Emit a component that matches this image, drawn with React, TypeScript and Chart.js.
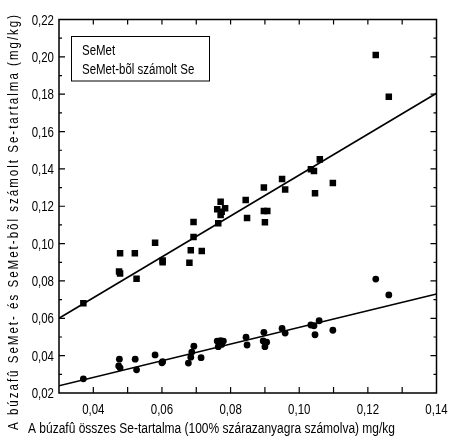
import React, { useEffect, useRef } from 'react';
import { Chart, registerables } from 'chart.js';

Chart.register(...registerables);

// SeMet (squares)
const semetX = [0.0371, 0.0475, 0.0478, 0.0478, 0.0521, 0.0526, 0.058, 0.0602, 0.0602, 0.068, 0.0684, 0.0692, 0.0692, 0.0716, 0.0761, 0.0771, 0.0784, 0.0771, 0.0774, 0.0764, 0.0844, 0.0848, 0.0897, 0.0897, 0.0907, 0.09, 0.095, 0.0959, 0.1034, 0.1043, 0.1046, 0.106, 0.1098, 0.1223, 0.1261];
const semetY = [0.068, 0.085, 0.084, 0.0948, 0.0948, 0.0812, 0.1004, 0.091, 0.09, 0.0898, 0.0964, 0.1035, 0.1116, 0.096, 0.1184, 0.1224, 0.1189, 0.1153, 0.117, 0.1109, 0.1233, 0.1137, 0.13, 0.1175, 0.1175, 0.1114, 0.1346, 0.129, 0.1398, 0.1389, 0.1269, 0.1451, 0.1325, 0.201, 0.1787];

// SeMet-bõl számolt Se (circles)
const seX = [0.0371, 0.0476, 0.0474, 0.0478, 0.0522, 0.0526, 0.058, 0.0602, 0.06, 0.0677, 0.0684, 0.0687, 0.0693, 0.0714, 0.0761, 0.0771, 0.0779, 0.0764, 0.0774, 0.0845, 0.0848, 0.0897, 0.0895, 0.0905, 0.09, 0.095, 0.0959, 0.1034, 0.1043, 0.1046, 0.1058, 0.1098, 0.1223, 0.1261];
const seY = [0.0276, 0.0381, 0.0345, 0.0335, 0.0381, 0.0324, 0.0404, 0.0368, 0.0362, 0.036, 0.0392, 0.0419, 0.0451, 0.0389, 0.0478, 0.048, 0.0478, 0.0448, 0.046, 0.0499, 0.0457, 0.0525, 0.0479, 0.0472, 0.0448, 0.0546, 0.0521, 0.0564, 0.056, 0.0512, 0.0587, 0.0536, 0.081, 0.0725];

// regression lines
const fitX = [0.03, 0.14];
const semetFitY = [0.06, 0.1805];
const seFitY = [0.0239, 0.073];

const xTickValues = [0.04, 0.06, 0.08, 0.1, 0.12, 0.14];
const xTickLabels = ['0,04', '0,06', '0,08', '0,10', '0,12', '0,14'];
const yTickValues = [0.02, 0.04, 0.06, 0.08, 0.1, 0.12, 0.14, 0.16, 0.18, 0.2, 0.22];
const yTickLabels = ['0,02', '0,04', '0,06', '0,08', '0,10', '0,12', '0,14', '0,16', '0,18', '0,20', '0,22'];

const seriesLabels = ['SeMet', 'SeMet-bõl számolt Se'];
const xTitle = 'A búzafû összes Se-tartalma (100% szárazanyagra számolva) mg/kg';
const yTitle = 'A búzafû SeMet- és SeMet-bõl számolt Se-tartalma (mg/kg)';

const FONT = '"Liberation Sans", Arial, sans-serif';
const NARROW = 0.82;

const zip = (xs: number[], ys: number[]) => xs.map((x, i) => ({ x, y: ys[i] }));

function narrowText(ctx: any, text: string, x: number, y: number, align: string, sx = NARROW) {
  const w = ctx.measureText(text).width * sx;
  let left = x;
  if (align === 'center') left = x - w / 2;
  else if (align === 'right') left = x - w;
  ctx.save();
  ctx.translate(left, y);
  ctx.scale(sx, 1);
  ctx.textAlign = 'left';
  ctx.fillText(text, 0, 0);
  ctx.restore();
}

const decor = {
  id: 'decor',
  afterDraw(chart: any) {
    const { ctx, chartArea: a, scales } = chart;
    const xs = scales.x;
    const ys = scales.y;
    ctx.save();
    ctx.strokeStyle = '#000';
    ctx.fillStyle = '#000';
    // frame
    ctx.lineWidth = 1.5;
    ctx.strokeRect(a.left, a.top, a.right - a.left, a.bottom - a.top);
    // ticks
    ctx.lineWidth = 1.2;
    ctx.beginPath();
    for (let i = 1; i < 11; i++) {
      const p = xs.getPixelForValue(0.03 + i * 0.01);
      ctx.moveTo(p, a.bottom);
      ctx.lineTo(p, a.bottom - 6);
      ctx.moveTo(p, a.top);
      ctx.lineTo(p, a.top + 5);
    }
    for (let i = 1; i < 20; i++) {
      const p = ys.getPixelForValue(0.02 + i * 0.01);
      const len = i % 2 === 0 ? 6 : 3;
      ctx.moveTo(a.left, p);
      ctx.lineTo(a.left + len, p);
      ctx.moveTo(a.right, p);
      ctx.lineTo(a.right - len, p);
    }
    ctx.stroke();

    ctx.font = '14px ' + FONT;
    ctx.textBaseline = 'alphabetic';

    // tick labels
    xs.ticks.forEach((t: any) => {
      const i = xTickValues.findIndex((v) => Math.abs(v - t.value) < 1e-9);
      if (i < 0) return;
      narrowText(ctx, xTickLabels[i], xs.getPixelForValue(t.value), a.bottom + 21, 'center');
    });
    ys.ticks.forEach((t: any) => {
      const i = yTickValues.findIndex((v) => Math.abs(v - t.value) < 1e-9);
      if (i < 0) return;
      narrowText(ctx, yTickLabels[i], a.left - 5, ys.getPixelForValue(t.value) + 5, 'right');
    });

    // legend box
    ctx.lineWidth = 1;
    ctx.strokeRect(71.5, 36.5, 138, 44.5);
    narrowText(ctx, chart.data.datasets[0].label, 82, 55, 'left');
    narrowText(ctx, chart.data.datasets[1].label, 82, 74, 'left');

    // x title
    const wx = ctx.measureText(xTitle).width;
    narrowText(ctx, xTitle, 28, 433, 'left', 367 / wx);

    // y title (narrow letters, spread out)
    (ctx as any).letterSpacing = '0px';
    const wy = ctx.measureText(yTitle).width * NARROW;
    const lsy = (417 - wy) / yTitle.length / NARROW;
    ctx.save();
    ctx.translate(18, 430);
    ctx.rotate(-Math.PI / 2);
    ctx.scale(NARROW, 1);
    (ctx as any).letterSpacing = lsy.toFixed(2) + 'px';
    ctx.textAlign = 'left';
    ctx.fillText(yTitle, 0, 0);
    ctx.restore();
    (ctx as any).letterSpacing = '0px';
    ctx.restore();
  },
};

export default function App() {
  const ref = useRef<HTMLCanvasElement>(null);
  useEffect(() => {
    if (!ref.current) return;
    const chart = new Chart(ref.current, {
      type: 'scatter',
      data: {
        datasets: [
          {
            label: seriesLabels[0],
            data: zip(semetX, semetY),
            pointStyle: 'rect',
            pointRadius: 4.6,
            backgroundColor: '#000',
            borderColor: '#000',
            borderWidth: 0,
          },
          {
            label: seriesLabels[1],
            data: zip(seX, seY),
            pointStyle: 'circle',
            pointRadius: 3.4,
            backgroundColor: '#000',
            borderColor: '#000',
            borderWidth: 0,
          },
          {
            label: 'fit1',
            data: zip(fitX, semetFitY),
            showLine: true,
            pointRadius: 0,
            borderColor: '#000',
            borderWidth: 1.6,
          },
          {
            label: 'fit2',
            data: zip(fitX, seFitY),
            showLine: true,
            pointRadius: 0,
            borderColor: '#000',
            borderWidth: 1.6,
          },
        ],
      },
      options: {
        animation: false,
        responsive: false,
        events: [],
        layout: { padding: { top: 19.5, right: 12.5, left: 0, bottom: 0 } },
        plugins: { legend: { display: false }, tooltip: { enabled: false } },
        scales: {
          x: {
            type: 'linear',
            min: 0.03,
            max: 0.14,
            afterBuildTicks: (s: any) => {
              s.ticks = xTickValues.map((v) => ({ value: v }));
            },
            afterFit: (s: any) => {
              s.height = 52;
            },
            ticks: { display: false },
            grid: { display: false, drawTicks: false },
            border: { display: false },
          },
          y: {
            type: 'linear',
            min: 0.02,
            max: 0.22,
            afterBuildTicks: (s: any) => {
              s.ticks = yTickValues.map((v) => ({ value: v }));
            },
            afterFit: (s: any) => {
              s.width = 59;
            },
            ticks: { display: false },
            grid: { display: false, drawTicks: false },
            border: { display: false },
          },
        },
      },
      plugins: [decor],
    } as any);
    return () => chart.destroy();
  }, []);
  return (
    <div style={{ position: 'fixed', left: 0, top: 0, width: 449, height: 445, background: '#fff' }}>
      <canvas ref={ref} width={449} height={445} style={{ display: 'block' }} />
    </div>
  );
}
